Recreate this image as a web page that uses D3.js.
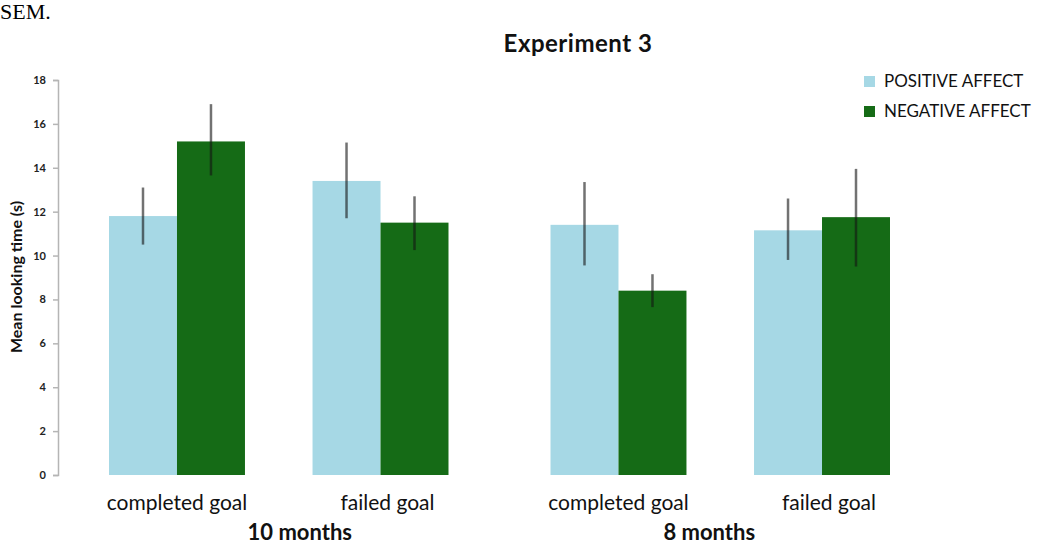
<!DOCTYPE html>
<html><head><meta charset="utf-8">
<script src="https://cdn.jsdelivr.net/npm/d3@7"></script>
<style>html,body{margin:0;padding:0;background:#fff;}svg{display:block;}</style>
</head><body>
<svg id="chart" width="1050" height="547"></svg>
<script>
const ages = ["10 months", "8 months"];
const conditions = ["completed goal", "failed goal"];
const seriesNames = ["POSITIVE AFFECT", "NEGATIVE AFFECT"];
// order: 10mo completed, 10mo failed, 8mo completed, 8mo failed
const positiveMeans = [11.8, 13.4, 11.4, 11.15];
const positiveErrLow = [10.5, 11.7, 9.55, 9.8];
const positiveErrHigh = [13.1, 15.15, 13.35, 12.6];
const negativeMeans = [15.2, 11.5, 8.4, 11.75];
const negativeErrLow = [13.65, 10.25, 7.65, 9.5];
const negativeErrHigh = [16.9, 12.7, 9.15, 13.95];
const yTicks = [0, 2, 4, 6, 8, 10, 12, 14, 16, 18];

const colors = ["#a6d8e5", "#156b16"];
const font = "Lato, 'Open Sans', sans-serif";

const svg = d3.select("#chart");

const y = d3.scaleLinear().domain([0, 18]).range([475, 80]);
const xOuter = d3.scaleBand().domain(ages).range([58, 941]).paddingInner(0.078).paddingOuter(0.039);
const xInner = d3.scaleBand().domain(conditions).range([0, xOuter.bandwidth()]).paddingInner(0.332).paddingOuter(0.166);
const xSeries = d3.scaleBand().domain(seriesNames).range([0, xInner.bandwidth()]);

const records = [];
ages.forEach((a, ai) => conditions.forEach((c, ci) => {
  const i = ai * 2 + ci;
  records.push({age: a, cond: c, series: seriesNames[0], v: positiveMeans[i], lo: positiveErrLow[i], hi: positiveErrHigh[i], s: 0});
  records.push({age: a, cond: c, series: seriesNames[1], v: negativeMeans[i], lo: negativeErrLow[i], hi: negativeErrHigh[i], s: 1});
}));
const bx = d => xOuter(d.age) + xInner(d.cond) + xSeries(d.series);

// "SEM." fragment
svg.append("text").attr("x", 0).attr("y", 19).attr("font-family", "'Liberation Serif', 'Times New Roman', serif")
  .attr("font-size", 22).attr("fill", "#000").text("SEM.");

// title
svg.append("text").attr("x", 578).attr("y", 52).attr("text-anchor", "middle")
  .attr("font-family", font).attr("font-weight", "bold").attr("font-size", 24).attr("letter-spacing", 0.5)
  .attr("fill", "#111").text("Experiment 3");

// y axis
const yAxis = d3.axisLeft(y).tickValues(yTicks).tickSize(5).tickPadding(7).tickFormat(d3.format("d"));
const ga = svg.append("g").attr("transform", "translate(58,0)").call(yAxis);
ga.select(".domain").attr("stroke", "#b5b5b5").attr("stroke-width", 1.5);
ga.selectAll(".tick line").attr("stroke", "#b5b5b5").attr("stroke-width", 1.5);
ga.selectAll(".tick text").attr("font-family", font).attr("font-weight", "bold").attr("font-size", 11).attr("fill", "#222");

svg.append("text").attr("transform", "translate(22,277) rotate(-90)").attr("text-anchor", "middle")
  .attr("font-family", font).attr("font-weight", "bold").attr("font-size", 16).attr("fill", "#111")
  .text("Mean looking time (s)");

// bars
svg.append("g").selectAll("rect").data(records).join("rect")
  .attr("x", bx).attr("width", xSeries.bandwidth())
  .attr("y", d => y(d.v)).attr("height", d => y(0) - y(d.v))
  .attr("fill", d => colors[d.s]);

// error bars
svg.append("g").selectAll("line").data(records).join("line")
  .attr("x1", d => bx(d) + xSeries.bandwidth() / 2).attr("x2", d => bx(d) + xSeries.bandwidth() / 2)
  .attr("y1", d => y(d.lo)).attr("y2", d => y(d.hi))
  .attr("stroke", "rgba(20,20,20,0.6)").attr("stroke-width", 2.5);

// category labels
ages.forEach(a => conditions.forEach(c => {
  svg.append("text").attr("x", xOuter(a) + xInner(c) + xInner.bandwidth() / 2 + (c === "failed goal" ? 7 : 0)).attr("y", 510)
    .attr("text-anchor", "middle").attr("font-family", font).attr("font-size", 21).attr("fill", "#111").text(c);
}));
const ageOffsets = [21, -11];
ages.forEach((a, i) => {
  svg.append("text").attr("x", xOuter(a) + xOuter.bandwidth() / 2 + ageOffsets[i]).attr("y", 540)
    .attr("text-anchor", "middle").attr("font-family", font).attr("font-weight", "bold").attr("font-size", 22).attr("fill", "#111").text(a);
});

// legend
const lg = svg.append("g").attr("transform", "translate(864,0)");
seriesNames.forEach((s, i) => {
  const yy = 81 + i * 30;
  lg.append("rect").attr("x", 0).attr("y", yy - 5).attr("width", 11).attr("height", 11).attr("fill", colors[i]);
  lg.append("text").attr("x", 20).attr("y", yy + 6).attr("font-family", font).attr("font-size", 17).attr("fill", "#111").text(s);
});
</script>
</body></html>
